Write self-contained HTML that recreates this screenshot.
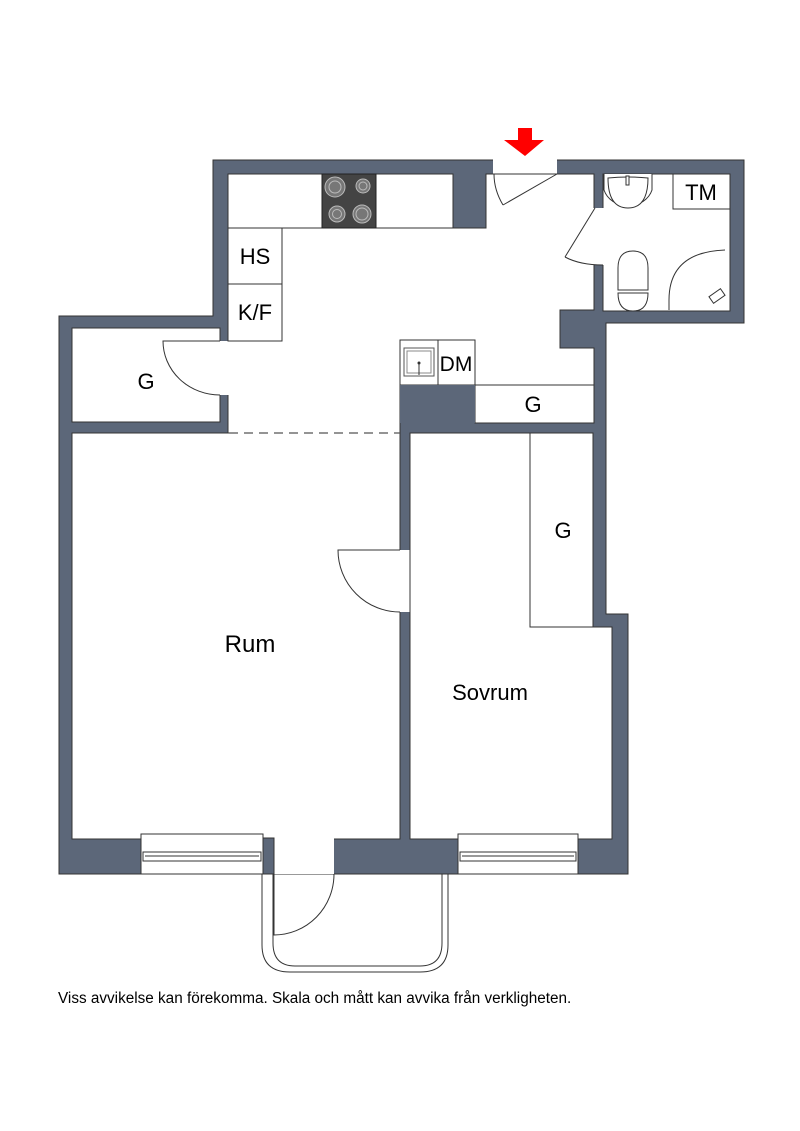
<!DOCTYPE html>
<html><head><meta charset="utf-8"><style>
html,body{margin:0;padding:0;background:#fff;}
svg{display:block;}
text{font-family:"Liberation Sans",sans-serif;fill:#000;}
</style></head><body>
<svg width="800" height="1131" viewBox="0 0 800 1131" xmlns="http://www.w3.org/2000/svg">
<path d="M213,160 H744 V323 H606 V614 H628 V874 H59 V316 H213 Z" fill="#5c6779" stroke="#333" stroke-width="1"/>
<g fill="#fff" stroke="#333" stroke-width="1">
<rect x="493" y="159" width="64" height="16" stroke="none"/>
<path d="M228,174 H453 V228 H486 V174 H594 V310 H560 V348 H594 V423 H475 V385 H400 V433 H228 Z"/>
<rect x="603" y="174" width="127" height="137"/>
<rect x="593" y="208" width="12" height="57" stroke="none"/>
<rect x="72" y="328" width="148" height="94"/>
<rect x="212" y="341" width="17" height="54" stroke="none"/>
<rect x="72" y="433" width="328" height="406"/>
<rect x="399" y="550" width="12" height="62" stroke="none"/>
<path d="M410,433 H593 V627 H612 V839 H410 Z"/>
<rect x="274" y="838" width="60" height="36" stroke="none"/>
</g>
<rect x="229" y="431" width="170.5" height="4" fill="#fff"/>
<line x1="229" y1="433" x2="400" y2="433" stroke-dasharray="9,6" stroke="#555" stroke-width="1.3"/>
<g fill="#fff" stroke="#333" stroke-width="1">
<rect x="228" y="174" width="225" height="54"/>
<rect x="228" y="228" width="54" height="56"/>
<rect x="228" y="284" width="54" height="57"/>
<rect x="400" y="340" width="38" height="45"/>
<rect x="438" y="340" width="37" height="45"/>
<rect x="475" y="385" width="119" height="38"/>
<rect x="530" y="433" width="63" height="194"/>
<rect x="673" y="174" width="57" height="35"/>
</g>
<rect x="400" y="385" width="75" height="38" fill="#5c6779"/>
<rect x="322" y="174" width="54" height="54" fill="#444" stroke="#222"/>
<g fill="#777" stroke="#bbb" stroke-width="1">
<circle cx="335" cy="187" r="10"/><circle cx="335" cy="187" r="6"/>
<circle cx="363" cy="186" r="7"/><circle cx="363" cy="186" r="4"/>
<circle cx="337" cy="214" r="8"/><circle cx="337" cy="214" r="4.5"/>
<circle cx="362" cy="214" r="9"/><circle cx="362" cy="214" r="6"/>
</g>
<rect x="404" y="348" width="30" height="28" fill="#fff" stroke="#555"/>
<rect x="407" y="351" width="24" height="22" fill="#fff" stroke="#888"/>
<line x1="419" y1="362" x2="419" y2="375" stroke="#333"/><circle cx="419" cy="363" r="1.5" fill="#333"/>
<g fill="none" stroke="#333" stroke-width="1">
<path d="M557,174 L503,205"/><path d="M503,205 Q494,190 494,174"/>
<path d="M595,208 L565,257"/><path d="M565,257 Q580,265 603,265"/>
<path d="M220,341 H163 A57,54 0 0 0 220,395"/>
<path d="M400,550 H338 A62,62 0 0 0 400,612"/>
<path d="M274,874 V935 A60,61 0 0 0 334,874"/>
</g>
<g fill="#fff" stroke="#333" stroke-width="1">
<path d="M604,174 V190 A25,22 0 0 0 652,190 V174"/>
<path d="M608,178 Q628,176 648,178 Q648,208 628,208 Q608,208 608,178 Z"/>
<rect x="626" y="176" width="3" height="9"/>
<path d="M618,290 V268 Q618,251 633,251 Q648,251 648,268 V290 Z"/>
<path d="M618,293 H648 Q648,311 633,311 Q618,311 618,293 Z"/>
<path d="M669,310 V300 Q669,252 725,250" fill="none"/>
</g>
<rect x="710" y="292" width="14" height="8" fill="#fff" stroke="#333" transform="rotate(-35 717 296)"/>
<g fill="#fff" stroke="#333" stroke-width="1">
<rect x="141" y="834" width="122" height="40"/>
<rect x="143" y="852" width="118" height="9"/>
<line x1="145" y1="856" x2="259" y2="856"/>
<rect x="458" y="834" width="120" height="40"/>
<rect x="460" y="852" width="116" height="9"/>
<line x1="462" y1="856" x2="574" y2="856"/>
</g>
<rect x="263" y="838" width="11" height="36" fill="#5c6779" stroke="#333"/>
<g fill="none" stroke="#333" stroke-width="1">
<path d="M262,874 V945 Q262,972 290,972 H420 Q448,972 448,945 V874"/>
<path d="M273,874 V943 Q273,966 295,966 H420 Q442,966 442,943 V874"/>
</g>
<path d="M518,128 H532 V140 H544 L525,156 L504,140 H518 Z" fill="#f00"/>
<text x="255" y="264" font-size="22" text-anchor="middle">HS</text>
<text x="255" y="320" font-size="22" text-anchor="middle">K/F</text>
<text x="701" y="200" font-size="22" text-anchor="middle">TM</text>
<text x="456" y="371" font-size="21" text-anchor="middle">DM</text>
<text x="533" y="412" font-size="22" text-anchor="middle">G</text>
<text x="146" y="389" font-size="22" text-anchor="middle">G</text>
<text x="563" y="538" font-size="22" text-anchor="middle">G</text>
<text x="250" y="652" font-size="24" text-anchor="middle">Rum</text>
<text x="490" y="700" font-size="22" text-anchor="middle">Sovrum</text>
<text x="58" y="1003" font-size="15.3">Viss avvikelse kan förekomma. Skala och mått kan avvika från verkligheten.</text>
</svg>
</body></html>
